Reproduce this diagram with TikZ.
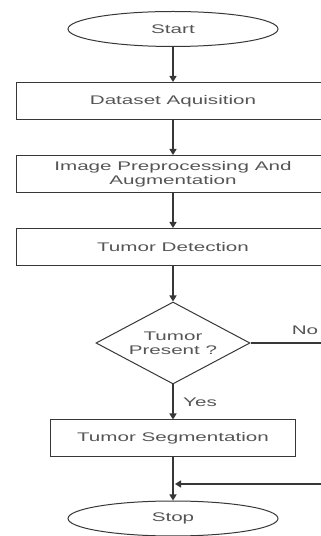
\documentclass[tikz,border=0pt]{standalone}
\usepackage{fontspec}
\setmainfont{Liberation Sans}[FakeStretch=1.65]
\usetikzlibrary{shapes.geometric, arrows.meta}
\definecolor{linegray}{RGB}{55, 55, 55}
\definecolor{textgray}{RGB}{85, 85, 85}

\begin{document}
\begin{tikzpicture}[x=1pt, y=1pt,
  flowline/.style={draw=linegray, line width=1.3pt},
  flowarrow/.style={flowline, -{Triangle[width=7pt, length=6pt]}},
  boxtext/.style={text=textgray, align=center, inner sep=0pt, font=\fontsize{12.5}{14}\selectfont},
  terminal/.style={boxtext, draw=linegray, line width=1pt, ellipse, minimum width=210pt, minimum height=35pt},
  process/.style={boxtext, draw=linegray, line width=1pt, rectangle, minimum width=314pt, minimum height=37pt},
  decision/.style={boxtext, draw=linegray, line width=1pt, diamond, aspect=1.88, minimum width=154pt, minimum height=82pt},
  flowlabel/.style={text=textgray, inner sep=0pt, font=\fontsize{12.5}{14}\selectfont}
]
  \clip (0, 0) rectangle (321, 536);

  % Steps
  \node[terminal] (start) at (173, 507) {Start};
  \node[process] (data) at (173, 435) {Dataset Aquisition};
  \node[process] (prep) at (173, 362) {Image Preprocessing And\\Augmentation};
  \node[process] (detect) at (173, 289) {Tumor Detection};
  \node[decision] (present) at (173, 193) {Tumor\\Present ?};
  \node[process, minimum width=245pt] (seg) at (173, 97.5) {Tumor Segmentation};
  \node[terminal] (stop) at (173, 17.5) {Stop};

  % Connectors
  \draw[flowarrow] (start) -- (data);
  \draw[flowarrow] (data) -- (prep);
  \draw[flowarrow] (prep) -- (detect);
  \draw[flowarrow] (detect) -- (present);
  \draw[flowarrow] (present) -- (seg);
  \draw[flowarrow] (seg) -- (stop);

  % No branch
  \coordinate (noturn) at (340, 193);
  \coordinate (merge) at (175, 52);
  \draw[flowarrow] (present.east) -- (noturn) |- (merge);

  % Labels
  \node[flowlabel] (nolabel) at (305, 206) {No};
  \node[flowlabel] (yeslabel) at (200, 134) {Yes};
\end{tikzpicture}
\end{document}
